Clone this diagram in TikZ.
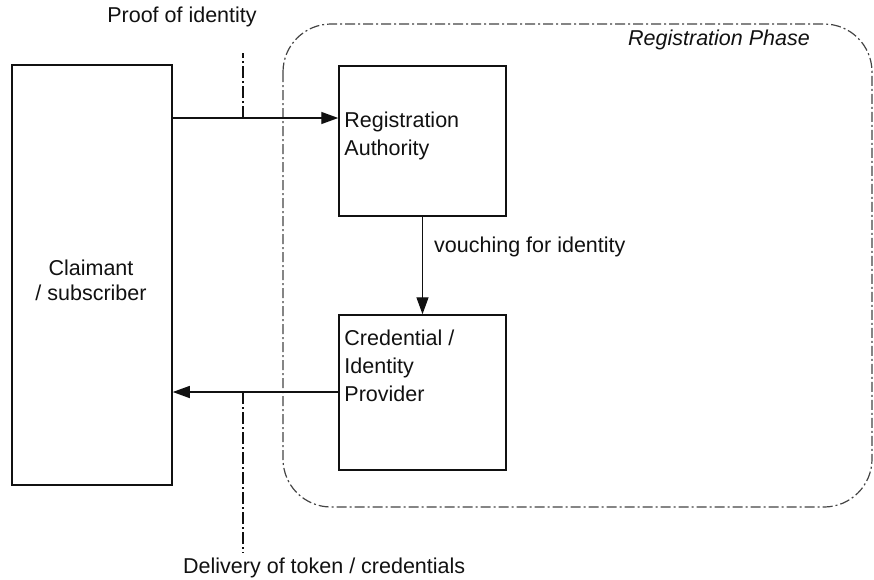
\documentclass[tikz,border=0pt]{standalone}
\usepackage{fontspec}
\setmainfont{Liberation Sans}
\usepackage{tikz}
\usetikzlibrary{arrows.meta,positioning,calc}
\definecolor{rpdark}{HTML}{111111}
\definecolor{rpgrey}{HTML}{444444}

\begin{document}
\begin{tikzpicture}[x=1pt,y=-1pt,
  box/.style={draw=rpdark,line width=1.5pt,inner sep=0pt},
  boxtext/.style={anchor=north west,align=left,inner sep=0pt,font=\fontsize{21.5}{28}\selectfont,color=rpdark},
  lbl/.style={inner sep=0pt,font=\fontsize{21.5}{25}\selectfont,color=rpdark},
  arr/.style={draw=rpdark,line width=1.4pt,-{Triangle[length=17pt,width=12pt]}},
  tick/.style={draw=rpdark,line width=1.3pt,dash pattern=on 12pt off 3pt on 2pt off 3pt},
  phase/.style={draw=rpgrey,line width=1.2pt,dash pattern=on 10pt off 3pt on 2pt off 3pt,rounded corners=48pt}]
\useasboundingbox (0,0) rectangle (874,579);
\draw[phase] (283,24) rectangle (872,507);
\node[lbl,font=\fontsize{21.5}{25}\selectfont\itshape] (phasetxt) at (719,40) {Registration Phase};

\node[box,minimum width=160,minimum height=420] (claim) at (92,275) {};
\node[lbl,align=center] (claimtxt) at (91,280) {Claimant\\/ subscriber};

\node[box,minimum width=167,minimum height=150] (ra) at (422.5,141) {};
\node[boxtext] (ratxt) at ($(ra.north west)+(6,46)$) {Registration\\Authority};

\node[box,minimum width=167,minimum height=155] (cp) at (422.5,392.5) {};
\node[boxtext] (cptxt) at ($(cp.north west)+(6,15)$) {Credential /\\Identity\\Provider};

% proof of identity
\coordinate (pin) at (243,118);
\coordinate (pintop) at (243,53);
\draw[arr] (claim.east |- pin) -- (ra.west |- pin);
\draw[tick] (pin) -- (pintop);
\node[lbl] (prooftxt) at (182,17) {Proof of identity};

% vouching
\draw[arr] (ra.south) -- (cp.north);
\node[lbl,anchor=west] (vouchtxt) at (434,247) {vouching for identity};

% delivery
\coordinate (pout) at (243,392);
\coordinate (poutbot) at (243,553);
\draw[arr] (cp.west |- pout) -- (claim.east |- pout);
\draw[tick] (pout) -- (poutbot);
\node[lbl,anchor=west] (delivtxt) at (183,568) {Delivery of token / credentials};
\end{tikzpicture}
\end{document}
